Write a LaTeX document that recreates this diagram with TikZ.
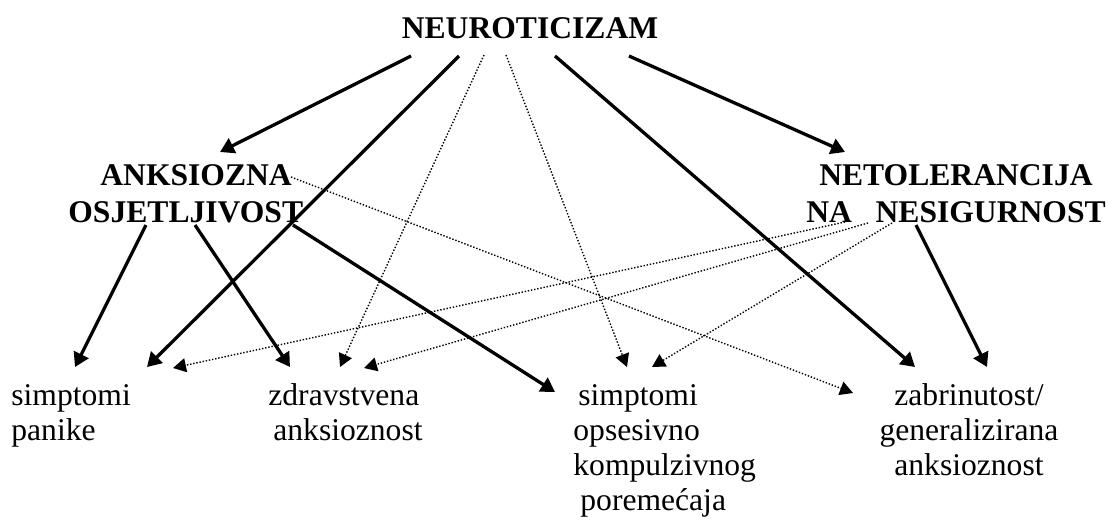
\documentclass[tikz,border=0pt]{standalone}
\usepackage{fontspec}
\setmainfont{Liberation Serif}
\usepackage{tikz}
\usetikzlibrary{arrows.meta,calc}
\tikzstyle{headtitle} = [font=\bfseries\fontsize{15.8}{18.5}\selectfont, inner sep=0pt]
\tikzstyle{outcome} = [font=\fontsize{15.8}{17.5}\selectfont, inner sep=0pt, align=left]
\tikzstyle{mainlink} = [line width=1.65pt, -{Triangle[length=7pt,width=8pt]}]
\tikzstyle{sidelink} = [line width=0.7pt, dash pattern=on 0.7pt off 0.9pt,
    -{Triangle[length=6.5pt,width=7pt]}]

\begin{document}
\begin{tikzpicture}[x=0.5pt,y=-0.5pt]
    \useasboundingbox (0,0) rectangle (1107,521);
    % traits
    \node[headtitle, anchor=base] (neuro) at (530,38) {NEUROTICIZAM};
    \node[headtitle, anchor=base west, align=left] (anks) at (68,222)
        {\hspace*{16pt}ANKSIOZNA\\OSJETLJIVOST};
    \node[headtitle, anchor=base, align=center] (netol) at (956,222)
        {NETOLERANCIJA\\NA~~~NESIGURNOST};
    % symptoms
    \node[outcome, anchor=base west] (panika) at (11,440) {simptomi\\panike};
    \node[outcome, anchor=base west] (zdrav) at (268,440)
        {zdravstvena\\\hspace*{2.5pt}anksioznost};
    \node[outcome, anchor=base west] (okp) at (573,510)
        {\hspace*{2.5pt}simptomi\\opsesivno\\kompulzivnog\\\hspace*{3.5pt}poremećaja};
    \node[outcome, anchor=base, align=center] (brig) at (969,475)
        {zabrinutost/\\generalizirana\\anksioznost};

    % neuroticizam
    \draw[mainlink] ($(neuro.base)+(-119,18)$) -- ($(anks.base west)+(152,-70)$);
    \draw[mainlink] ($(neuro.base)+(-71,18)$) -- ($(panika.base west)+(136,-73)$);
    \draw[sidelink] ($(neuro.base)+(-46,17)$) -- ($(zdrav.base west)+(72,-73)$);
    \draw[sidelink] ($(neuro.base)+(-24,17)$) -- ($(okp.base west)+(54,-143)$);
    \draw[mainlink] ($(neuro.base)+(25,18)$) -- ($(brig.base)+(-54,-108)$);
    \draw[mainlink] ($(neuro.base)+(99,18)$) -- ($(netol.base)+(-111,-70)$);

    % anksiozna osjetljivost
    \draw[mainlink] ($(anks.base west)+(78,3)$) -- ($(panika.base west)+(64,-73)$);
    \draw[mainlink] ($(anks.base west)+(127,3)$) -- ($(zdrav.base west)+(22,-73)$);
    \draw[mainlink] ($(anks.base west)+(225,3)$) -- ($(okp.base west)+(-18,-118)$);
    \draw[sidelink] ($(anks.base west)+(223,-45)$) -- ($(brig.base)+(-116,-82)$);

    % netolerancija na nesigurnost
    \draw[sidelink] ($(netol.base)+(-111,0)$) -- ($(panika.base west)+(162,-72)$);
    \draw[sidelink] ($(netol.base)+(-88,1)$) -- ($(zdrav.base west)+(96,-72)$);
    \draw[sidelink] ($(netol.base)+(-64,1)$) -- ($(okp.base west)+(79,-143)$);
    \draw[mainlink] ($(netol.base)+(-40,3)$) -- ($(brig.base)+(18,-108)$);
\end{tikzpicture}
\end{document}
